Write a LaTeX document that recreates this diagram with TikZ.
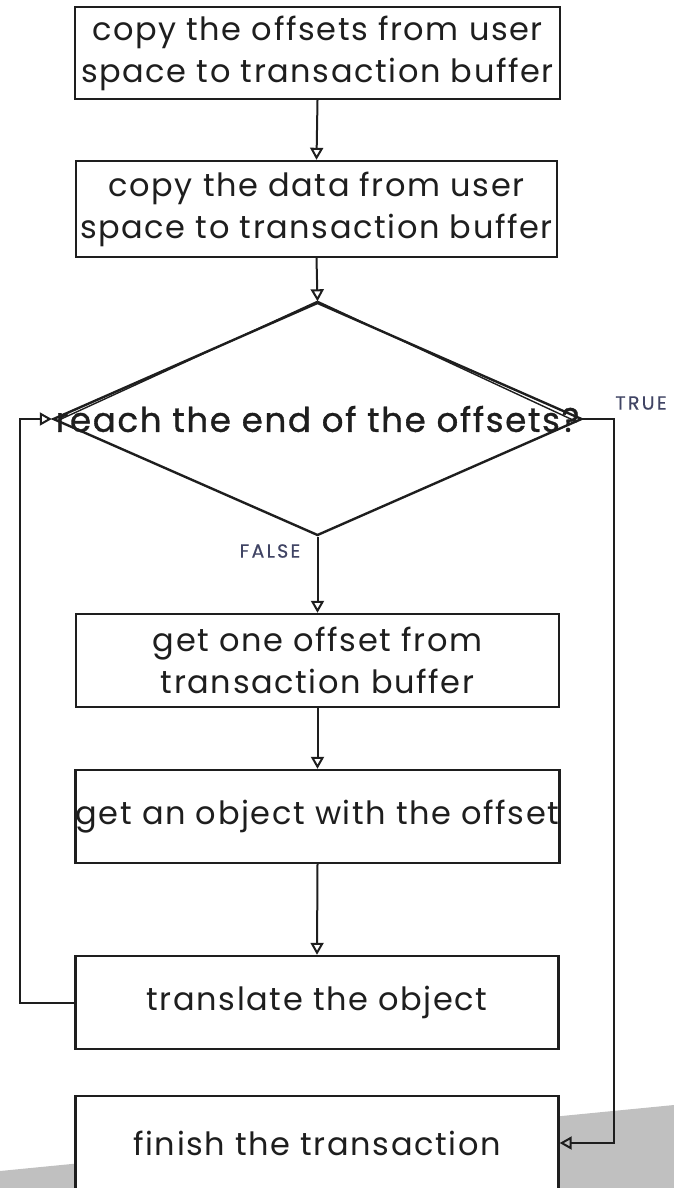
\documentclass[tikz,border=0pt]{standalone}
\usepackage{fontspec}
\setmainfont[LetterSpace=5]{Poppins}
\newfontfamily\heavyfont[LetterSpace=5,FakeBold=1]{Poppins}
\newfontfamily\tagfont[LetterSpace=12,FakeBold=0.5]{Poppins}
\usetikzlibrary{arrows.meta,shapes.geometric}
\definecolor{ink}{RGB}{30,30,30}
\definecolor{tagcol}{RGB}{64,68,100}
\definecolor{greyfill}{RGB}{192,192,192}
\begin{document}
\begin{tikzpicture}[x=1pt,y=-1pt,
  stepbox/.style={draw=ink, line width=2.4pt, fill=white, rectangle, inner sep=0pt,
    minimum width=483pt, minimum height=93pt, align=center,
    font=\fontsize{32}{42}\selectfont, text=ink},
  decision/.style={draw=ink, line width=2.4pt, fill=white, diamond, inner sep=0pt,
    minimum width=529pt, minimum height=233pt},
  flow/.style={draw=ink, line width=2pt, -{Triangle[open,length=12pt,width=13pt]}},
  tagtext/.style={text=tagcol, font=\tagfont\fontsize{19}{22}\selectfont}
]
\useasboundingbox (0,0) rectangle (674,1188);
\clip (0,0) rectangle (674,1188);

% grey backdrop in the lower right corner
\fill[greyfill] (0,1171) -- (674,1105) -- (674,1188) -- (0,1188) -- cycle;

% process steps
\node[stepbox, minimum width=485pt, minimum height=92pt] (copyoff) at (317.5,53)
  {copy the offsets from user\\space to transaction buffer};
\node[stepbox, minimum width=481pt, minimum height=96pt] (copydata) at (316.5,209)
  {copy the data from user\\space to transaction buffer};
\node[decision] (check) at (317.5,419) {};
\node[font=\heavyfont\fontsize{34}{38}\selectfont, text=ink] (checktext) at (check.center)
  {reach the end of the offsets?};
\node[stepbox] (getoff) at (317.5,660.5)
  {get one offset from\\transaction buffer};
\node[stepbox] (getobj) at (317.5,816.5)
  {get an object with the offset};
\node[stepbox] (transl) at (317,1002.5)
  {translate the object};
\node[stepbox, minimum height=94pt] (finish) at (317,1143)
  {finish the transaction};

% second stroke on the upper edges of the decision
\draw[ink, line width=1.4pt] (check.north) -- ([xshift=5pt,yshift=-2pt]check.west);
\draw[ink, line width=1.4pt] (check.north) -- ([xshift=-6pt,yshift=-3pt]check.east);

% connectors
\draw[flow] (copyoff.south) -- (copydata.north);
\draw[flow] (copydata.south) -- (check.north);
\draw[flow] (check.south) -- (getoff.north);
\draw[flow] (getoff.south) -- (getobj.north);
\draw[flow] (getobj.south) -- (transl.north);
\draw[flow] (transl.west) -- ++(-54,0) |- (check.west);
\draw[flow] (check.east) -- ++(31,0) |- (finish.east);

% branch labels
\node[tagtext] (truetag) at (641,403) {TRUE};
\node[tagtext] (falsetag) at (270,551) {FALSE};
\end{tikzpicture}
\end{document}
